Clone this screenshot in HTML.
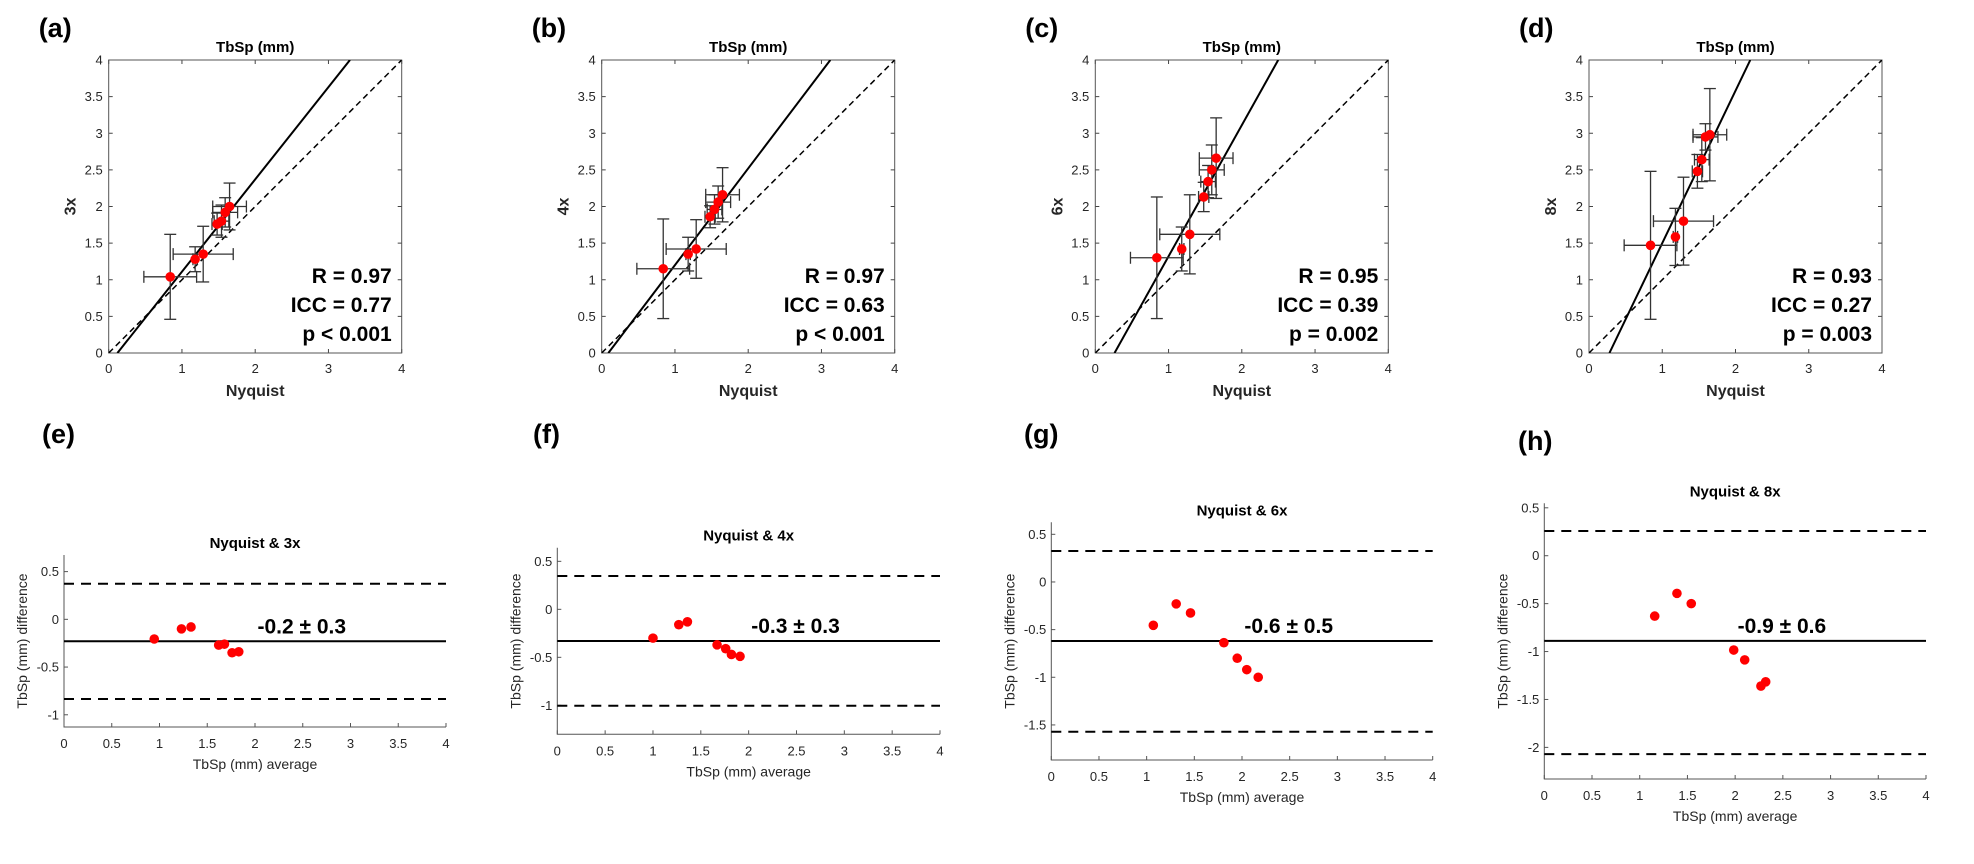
<!DOCTYPE html>
<html><head><meta charset="utf-8"><style>
html,body{margin:0;padding:0;background:#fff;}
svg{display:block;font-family:"Liberation Sans",Arial,sans-serif;}
</style></head><body>
<svg id="fig" width="1974" height="864" viewBox="0 0 1974 864" xmlns="http://www.w3.org/2000/svg"></svg>
<script>
// ---- data: scatter panels (a-d) ----
const nyq = [0.84, 1.18, 1.29, 1.48, 1.54, 1.59, 1.65];
const nyqErr = [0.36, 0.03, 0.41, 0.07, 0.10, 0.17, 0.23];
const y3 = [1.04, 1.28, 1.35, 1.76, 1.80, 1.92, 2.00];
const y3Err = [0.58, 0.17, 0.38, 0.15, 0.22, 0.20, 0.32];
const y4 = [1.15, 1.35, 1.42, 1.86, 1.96, 2.06, 2.16];
const y4Err = [0.68, 0.23, 0.40, 0.15, 0.20, 0.22, 0.37];
const y6 = [1.30, 1.42, 1.62, 2.13, 2.34, 2.50, 2.66];
const y6Err = [0.83, 0.30, 0.54, 0.20, 0.22, 0.34, 0.55];
const y8 = [1.47, 1.585, 1.80, 2.48, 2.64, 2.95, 2.98];
const y8Err = [1.01, 0.39, 0.60, 0.23, 0.30, 0.18, 0.63];
const fitSlope = [1.26, 1.32, 1.79, 2.08];
const fitIntercept = [-0.15, -0.12, -0.47, -0.58];
const statR = ["R = 0.97", "R = 0.97", "R = 0.95", "R = 0.93"];
const statICC = ["ICC = 0.77", "ICC = 0.63", "ICC = 0.39", "ICC = 0.27"];
const statP = ["p < 0.001", "p < 0.001", "p = 0.002", "p = 0.003"];
const scatterTicks = [0, 0.5, 1, 1.5, 2, 2.5, 3, 3.5, 4];
const scatterXTicks = [0, 1, 2, 3, 4];
// ---- data: Bland-Altman panels (e-h) ----
const baAvg3 = [0.945, 1.23, 1.33, 1.62, 1.68, 1.76, 1.83];
const baDiff3 = [-0.206, -0.10, -0.08, -0.27, -0.26, -0.35, -0.34];
const baAvg4 = [1.00, 1.27, 1.36, 1.67, 1.76, 1.82, 1.91];
const baDiff4 = [-0.30, -0.16, -0.13, -0.37, -0.41, -0.47, -0.49];
const baAvg6 = [1.07, 1.31, 1.46, 1.81, 1.95, 2.05, 2.17];
const baDiff6 = [-0.455, -0.23, -0.325, -0.637, -0.80, -0.92, -1.00];
const baAvg8 = [1.157, 1.39, 1.54, 1.985, 2.10, 2.27, 2.32];
const baDiff8 = [-0.63, -0.393, -0.50, -0.984, -1.087, -1.36, -1.316];
const baMean = [-0.23, -0.33, -0.62, -0.888];
const baUpper = [0.373, 0.347, 0.325, 0.258];
const baLower = [-0.835, -1.004, -1.571, -2.07];
const baLabels = ["-0.2 \u00b1 0.3", "-0.3 \u00b1 0.3", "-0.6 \u00b1 0.5", "-0.9 \u00b1 0.6"];
const baTitles = ["Nyquist & 3x", "Nyquist & 4x", "Nyquist & 6x", "Nyquist & 8x"];
const baXTicks = [0, 0.5, 1, 1.5, 2, 2.5, 3, 3.5, 4];
const baYTicks3 = [-1, -0.5, 0, 0.5];
const baYTicks4 = [-1, -0.5, 0, 0.5];
const baYTicks6 = [-1.5, -1, -0.5, 0, 0.5];
const baYTicks8 = [-2, -1.5, -1, -0.5, 0, 0.5];

const NS = "http://www.w3.org/2000/svg";
const svg = document.getElementById('fig');
function mk(tag, attrs, parent, text){
  const e = document.createElementNS(NS, tag);
  for (const k in attrs) e.setAttribute(k, attrs[k]);
  if (text !== undefined) e.textContent = text;
  (parent || svg).appendChild(e);
  return e;
}
function fmt(v){ return String(v); }

// ---------- scatter panels ----------
const sYs = [y3, y4, y6, y8];
const sYErrs = [y3Err, y4Err, y6Err, y8Err];
const sLeft = [108.7, 601.7, 1095.3, 1589];
const sYLabel = ["3x", "4x", "6x", "8x"];
const sLetters = ["(a)", "(b)", "(c)", "(d)"];
const sTop = 60, sSize = 293;

for (let p = 0; p < 4; p++){
  const L = sLeft[p];
  const xs = v => L + v / 4 * sSize;
  const ys = v => sTop + sSize - v / 4 * sSize;
  const g = mk('g', {});
  
  
  const letter = mk('text', {x: L - 70, y: 37, 'font-size': 27, 'font-weight': 'bold', fill: '#000'}, g, sLetters[p]);
  
  
  const title = mk('text', {x: L + sSize / 2, y: 52, 'text-anchor': 'middle', 'font-size': 15, 'font-weight': 'bold', fill: '#000'}, g, 'TbSp (mm)');
  
  
  const cid = 'clip' + p;
  const cp = mk('clipPath', {id: cid}, g);
  mk('rect', {x: L, y: sTop, width: sSize, height: sSize}, cp);
  // ticks
  scatterTicks.forEach(t => {
    const yy = ys(t);
    mk('line', {x1: L, x2: L + 4, y1: yy, y2: yy, stroke: '#444', 'stroke-width': 1}, g);
    mk('line', {x1: L + sSize, x2: L + sSize - 4, y1: yy, y2: yy, stroke: '#444', 'stroke-width': 1}, g);
    const tl = mk('text', {x: L - 6, y: yy + 4.5, 'text-anchor': 'end', 'font-size': 13, fill: '#262626'}, g, fmt(t));
    
    
  });
  scatterXTicks.forEach(t => {
    const xx = xs(t);
    mk('line', {x1: xx, x2: xx, y1: sTop + sSize, y2: sTop + sSize - 4, stroke: '#444', 'stroke-width': 1}, g);
    mk('line', {x1: xx, x2: xx, y1: sTop, y2: sTop + 4, stroke: '#444', 'stroke-width': 1}, g);
    const tl = mk('text', {x: xx, y: 373, 'text-anchor': 'middle', 'font-size': 13, fill: '#262626'}, g, fmt(t));
    
    
  });
  const box = mk('rect', {x: L, y: sTop, width: sSize, height: sSize, fill: 'none', stroke: '#555', 'stroke-width': 1}, g);
  
  
  // identity line
  const idl = mk('line', {x1: xs(0), y1: ys(0), x2: xs(4), y2: ys(4), stroke: '#000', 'stroke-width': 1.5, 'stroke-dasharray': '6,4', 'clip-path': 'url(#' + cid + ')'}, g);
  
  
  // fit line
  const m = fitSlope[p], b = fitIntercept[p];
  const xa = (0 - b) / m, xb = (4 - b) / m;
  const fl = mk('line', {x1: xs(xa), y1: ys(0), x2: xs(xb), y2: ys(4), stroke: '#000', 'stroke-width': 2, 'clip-path': 'url(#' + cid + ')'}, g);
  
  
  // error bars + points
  const Y = sYs[p], YE = sYErrs[p];
  for (let i = 0; i < nyq.length; i++){
    const eg = mk('g', {stroke: '#333', 'stroke-width': 1.3}, g);
    
    
    const cx = xs(nyq[i]), cy = ys(Y[i]);
    const yt = ys(Y[i] + YE[i]), yb = ys(Y[i] - YE[i]);
    mk('line', {x1: cx, x2: cx, y1: yt, y2: yb}, eg);
    mk('line', {x1: cx - 6, x2: cx + 6, y1: yt, y2: yt}, eg);
    mk('line', {x1: cx - 6, x2: cx + 6, y1: yb, y2: yb}, eg);
    const xl = xs(nyq[i] - nyqErr[i]), xr = xs(nyq[i] + nyqErr[i]);
    mk('line', {x1: xl, x2: xr, y1: cy, y2: cy}, eg);
    mk('line', {x1: xl, x2: xl, y1: cy - 6, y2: cy + 6}, eg);
    mk('line', {x1: xr, x2: xr, y1: cy - 6, y2: cy + 6}, eg);
  }
  for (let i = 0; i < nyq.length; i++){
    const c = mk('circle', {cx: xs(nyq[i]), cy: ys(Y[i]), r: 4.8, fill: '#ff0000'}, g);
    
    
  }
  // stats
  const st = [statR[p], statICC[p], statP[p]];
  const sy = [283, 312, 341];
  st.forEach((s, k) => {
    const t = mk('text', {x: L + sSize - 10, y: sy[k], 'text-anchor': 'end', 'font-size': 21, 'font-weight': 'bold', fill: '#000'}, g, s);
    
    
  });
  const xl = mk('text', {x: L + sSize / 2, y: 396, 'text-anchor': 'middle', 'font-size': 16, 'font-weight': 'bold', fill: '#262626'}, g, 'Nyquist');
  
  
  const yl = mk('text', {x: 0, y: 0, transform: 'translate(' + (L - 33) + ',' + (sTop + sSize / 2) + ') rotate(-90)', 'text-anchor': 'middle', 'font-size': 16, 'font-weight': 'bold', fill: '#262626'}, g, sYLabel[p]);
  
  
}

// ---------- Bland-Altman panels ----------
const bAvg = [baAvg3, baAvg4, baAvg6, baAvg8];
const bDiff = [baDiff3, baDiff4, baDiff6, baDiff8];
const bYTicks = [baYTicks3, baYTicks4, baYTicks6, baYTicks8];
const bX0 = [64, 557.3, 1051.3, 1544.3];
const bX1 = [446, 940, 1432.7, 1926];
const bTopPx = [555, 547.7, 522.3, 503.3];
const bBotPx = [727, 734.3, 760, 779];
const bYMax = [0.674, 0.642, 0.626, 0.547];
const bYMin = [-1.128, -1.302, -1.868, -2.33];
const bLetters = ["(e)", "(f)", "(g)", "(h)"];
const bLetterX = [42, 533, 1024, 1518];
const bLetterY = [443, 443, 443, 450];

for (let p = 0; p < 4; p++){
  const X0 = bX0[p], X1 = bX1[p], T = bTopPx[p], B = bBotPx[p];
  const xs = v => X0 + v / 4 * (X1 - X0);
  const ys = v => T + (bYMax[p] - v) / (bYMax[p] - bYMin[p]) * (B - T);
  const g = mk('g', {});
  
  
  const letter = mk('text', {x: bLetterX[p], y: bLetterY[p], 'font-size': 27, 'font-weight': 'bold', fill: '#000'}, g, bLetters[p]);
  
  
  const title = mk('text', {x: (X0 + X1) / 2, y: T - 7, 'text-anchor': 'middle', 'font-size': 15, 'font-weight': 'bold', fill: '#000'}, g, baTitles[p]);
  
  
  // axes
  const ax = mk('path', {d: 'M' + X0 + ',' + T + ' V' + B + ' H' + X1, fill: 'none', stroke: '#555', 'stroke-width': 1}, g);
  
  
  baXTicks.forEach(t => {
    const xx = xs(t);
    mk('line', {x1: xx, x2: xx, y1: B, y2: B - 4, stroke: '#555', 'stroke-width': 1}, g);
    const tl = mk('text', {x: xx, y: B + 21, 'text-anchor': 'middle', 'font-size': 13, fill: '#262626'}, g, fmt(t));
    
    
  });
  bYTicks[p].forEach(t => {
    const yy = ys(t);
    mk('line', {x1: X0, x2: X0 + 4, y1: yy, y2: yy, stroke: '#555', 'stroke-width': 1}, g);
    const tl = mk('text', {x: X0 - 5, y: yy + 4.5, 'text-anchor': 'end', 'font-size': 13, fill: '#262626'}, g, fmt(t));
    
    
  });
  const up = mk('line', {x1: xs(0), x2: xs(4), y1: ys(baUpper[p]), y2: ys(baUpper[p]), stroke: '#000', 'stroke-width': 2, 'stroke-dasharray': '10,7'}, g);
  
  
  const lo = mk('line', {x1: xs(0), x2: xs(4), y1: ys(baLower[p]), y2: ys(baLower[p]), stroke: '#000', 'stroke-width': 2, 'stroke-dasharray': '10,7'}, g);
  
  
  const mn = mk('line', {x1: xs(0), x2: xs(4), y1: ys(baMean[p]), y2: ys(baMean[p]), stroke: '#000', 'stroke-width': 2}, g);
  
  
  const lbl = mk('text', {x: xs(2.49), y: ys(baMean[p]) - 8, 'text-anchor': 'middle', 'font-size': 21, 'font-weight': 'bold', fill: '#000'}, g, baLabels[p]);
  
  
  for (let i = 0; i < bAvg[p].length; i++){
    const c = mk('circle', {cx: xs(bAvg[p][i]), cy: ys(bDiff[p][i]), r: 4.8, fill: '#ff0000'}, g);
    
    
  }
  const xl = mk('text', {x: (X0 + X1) / 2, y: B + 42, 'text-anchor': 'middle', 'font-size': 14, fill: '#262626'}, g, 'TbSp (mm) average');
  
  
  const yl = mk('text', {x: 0, y: 0, transform: 'translate(' + (X0 - 37) + ',' + ((T + B) / 2) + ') rotate(-90)', 'text-anchor': 'middle', 'font-size': 14, fill: '#262626'}, g, 'TbSp (mm) difference');
  
  
}
</script>
</body></html>
